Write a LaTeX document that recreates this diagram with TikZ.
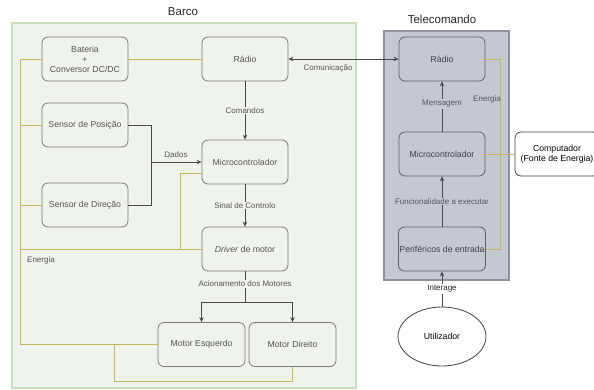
\documentclass[tikz,border=0pt]{standalone}
\usepackage{fontspec}
\setmainfont{Liberation Sans}
\usetikzlibrary{arrows.meta,positioning,shapes.geometric}
\definecolor{bggreen}{HTML}{EEF4EC}
\definecolor{bdgreen}{HTML}{C8DDBA}
\definecolor{nodebd}{HTML}{7A7A7A}
\definecolor{txt}{HTML}{555555}
\definecolor{telefill}{HTML}{C4C9D1}
\definecolor{telebd}{HTML}{8C939C}
\definecolor{energy}{HTML}{C9B55C}
\definecolor{arr}{HTML}{4A4A4A}
\tikzset{
  blk/.style={draw=nodebd, rounded corners=6pt, minimum width=86pt, minimum height=44pt, align=center, font=\fontsize{8.7}{10}\selectfont, text=txt, line width=0.8pt, inner sep=1pt},
  gblk/.style={blk, fill=bggreen},
  tblk/.style={blk, fill=telefill, draw=nodebd!80!black, text=black!75},
  wire/.style={draw=arr, line width=0.8pt},
  arrow/.style={wire, -{Stealth[length=5pt,width=4.5pt]}},
  ewire/.style={draw=energy, line width=0.8pt},
  elab/.style={font=\fontsize{8}{9}\selectfont, text=txt, inner sep=1pt},
  title/.style={font=\fontsize{11.5}{13}\selectfont, text=black!85}
}
\begin{document}
\begin{tikzpicture}[x=1pt,y=-1pt]
\useasboundingbox (0,0) rectangle (594,389);
% containers
\node[draw=bdgreen, fill=bggreen, line width=1.6pt, minimum width=344pt, minimum height=365pt, anchor=north west, inner sep=0pt] (barco) at (11,22) {};
\node[title] (barcoT) at (183,12) {Barco};
\node[draw=telebd, fill=telefill, line width=1.6pt, minimum width=125pt, minimum height=249pt, anchor=north west, inner sep=0pt] (tele) at (383,30) {};
\node[title] (teleT) at (442,19) {Telecomando};
% Barco nodes
\node[gblk] (bat) at (85,59) {Bateria\\+\\Conversor DC/DC};
\node[gblk] (rad) at (245,59) {Rádio};
\node[gblk] (sp) at (85,125) {Sensor de Posição};
\node[gblk] (mc) at (245,162) {Microcontrolador};
\node[gblk] (sd) at (85,205) {Sensor de Direção};
\node[gblk] (drv) at (245,249) {\textit{Driver} de motor};
\node[gblk, minimum width=87pt] (me) at (201.5,344.5) {Motor Esquerdo};
\node[gblk, minimum width=87pt] (md) at (292.5,344.5) {Motor Direito};
% Telecomando nodes
\node[tblk] (trad) at (442,59) {Rádio};
\node[tblk] (tmc) at (442,154) {Microcontrolador};
\node[tblk] (per) at (442,249) {Periféricos de entrada};
\node[draw=black!75, fill=white, ellipse, minimum width=88pt, minimum height=59pt, font=\fontsize{8.7}{10}\selectfont, line width=0.8pt] (ut) at (442,336.5) {Utilizador};
\node[draw=black!75, fill=white, rounded corners=6pt, minimum width=84pt, minimum height=44pt, align=center, font=\fontsize{8.7}{10}\selectfont, line width=0.8pt, inner sep=1pt] (comp) at (557,154) {Computador\\(Fonte de Energia)};
% coordinates
\coordinate (bus1) at (20,59);
\coordinate (bus2) at (20,344.5);
\coordinate (busS) at (20,125);
\coordinate (busD) at (20,205);
\coordinate (busV) at (20,249);
\coordinate (mcE1) at (180,249);
\coordinate (mcE2) at (180,173);
\coordinate (mcE3) at (202,173);
\coordinate (ml1) at (114,344.5);
\coordinate (ml2) at (114,381);
\coordinate (dj) at (151,162);
\coordinate (mj) at (245,302);
\coordinate (te1) at (500,59);
\coordinate (te2) at (500,249);
% energy wires
\draw[ewire] (bat.west) -- (bus1) -- (bus2) -- (me.west);
\draw[ewire] (sp.west) -- (busS);
\draw[ewire] (sd.west) -- (busD);
\draw[ewire] (drv.west) -- (busV);
\draw[ewire] (mcE1) -- (mcE2) -- (mcE3);
\draw[ewire] (ml1) -- (ml2) -| (md.south);
\draw[ewire] (bat.east) -- (rad.west);
\draw[ewire] (trad.east) -- (te1) -- (te2) -- (per.east);
\draw[ewire] (tmc.east) -- (comp.west);
\node[elab, anchor=west] (enB) at (26,260) {Energia};
\node[elab] (enT) at (487,99) {Energia};
% Barco signal wires
\draw[arrow] (rad.south) -- node[elab, fill=bggreen] (lcmd) {Comandos} (mc.north);
\draw[wire] (sp.east) -| (dj);
\draw[wire] (sd.east) -| (dj);
\draw[arrow] (dj) -- (mc.west);
\node[elab] (ldad) at (176,155) {Dados};
\draw[arrow] (mc.south) -- node[elab, fill=bggreen, pos=0.5] (lsc) {Sinal de Controlo} (drv.north);
\draw[wire] (drv.south) -- (mj);
\node[elab, fill=bggreen] (lac) at (245,284) {Acionamento dos Motores};
\draw[arrow] (mj) -| (me.north);
\draw[arrow] (mj) -| (md.north);
% communication
\draw[wire, {Stealth[length=5pt,width=4.5pt]}-{Stealth[length=5pt,width=4.5pt]}] (rad.east) -- (trad.west);
\node[elab] (lcom) at (328,68) {Comunicação};
% Telecomando wires
\draw[arrow] (tmc.north) -- node[elab, fill=telefill, pos=0.55] (lmsg) {Mensagem} (trad.south);
\draw[arrow] (per.north) -- node[elab, fill=telefill, pos=0.5] (lfun) {Funcionalidade a executar} (tmc.south);
\draw[arrow] (ut.north) -- node[elab, fill=white, text=black!85, pos=0.5] (lint) {Interage} (per.south);
\end{tikzpicture}
\end{document}
